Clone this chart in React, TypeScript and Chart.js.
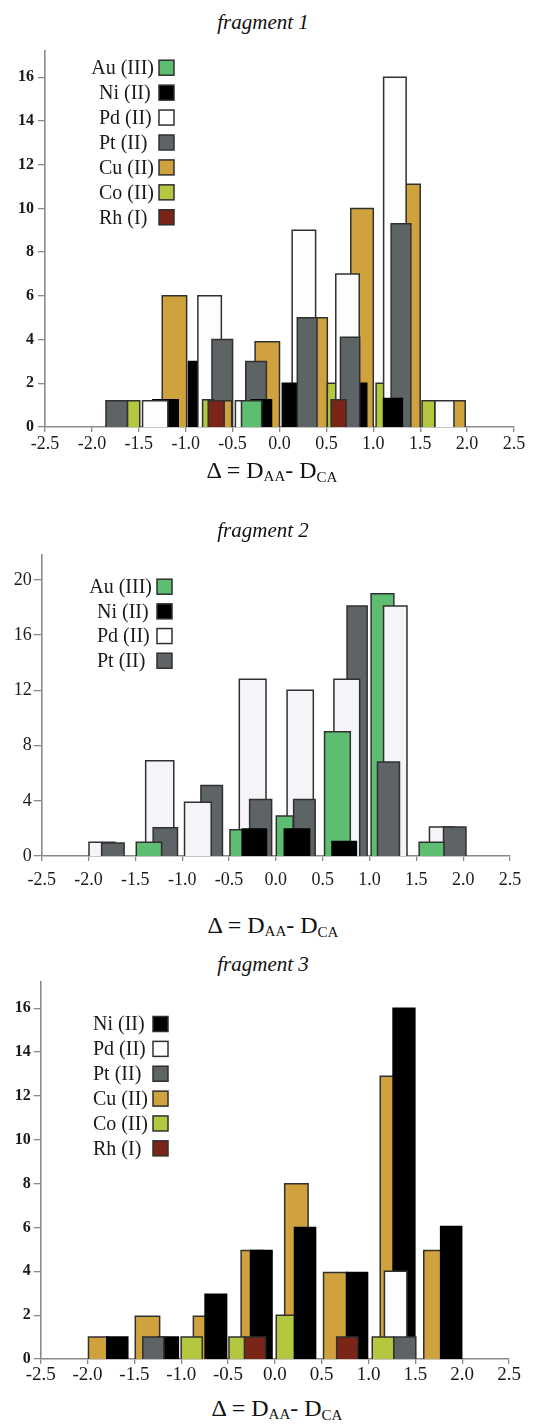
import React, { useEffect, useRef } from "react";
import { Chart, registerables } from "chart.js";

Chart.register(...registerables);

type Bar = [string, number, number, number]; // series, Δ from, Δ to, count

const SERIES_LABELS: Record<string, string> = {
  Au: "Au (III)",
  Ni: "Ni (II)",
  Pd: "Pd (II)",
  Pt: "Pt (II)",
  Cu: "Cu (II)",
  Co: "Co (II)",
  Rh: "Rh (I)",
};

const COLORS: Record<string, string> = {
  Au: "#5dbe72",
  Ni: "#000000",
  Pd: "#fdfdfd",
  Pt: "#5e6366",
  Cu: "#cfa23e",
  Co: "#b4c73f",
  Rh: "#7a2517",
};

const X_TICKS = [-2.5, -2.0, -1.5, -1.0, -0.5, 0.0, 0.5, 1.0, 1.5, 2.0, 2.5];

const frag1Legend = ["Au", "Ni", "Pd", "Pt", "Cu", "Co", "Rh"];
const frag2Legend = ["Au", "Ni", "Pd", "Pt"];
const frag3Legend = ["Ni", "Pd", "Pt", "Cu", "Co", "Rh"];

// bars listed back-to-front
const frag1Bars: Bar[] = [
  ["Pt", -1.85, -1.62, 1.2],
  ["Co", -1.62, -1.49, 1.2],
  ["Cu", -1.25, -0.99, 6],
  ["Ni", -1.35, -1.08, 1.25],
  ["Pd", -1.46, -1.19, 1.2],
  ["Ni", -0.97, -0.82, 3],
  ["Pd", -0.87, -0.62, 6],
  ["Pt", -0.72, -0.5, 4],
  ["Co", -0.82, -0.7, 1.25],
  ["Cu", -0.66, -0.51, 1.2],
  ["Rh", -0.76, -0.59, 1.2],
  ["Pd", -0.47, -0.25, 1.2],
  ["Cu", -0.26, 0.0, 3.9],
  ["Pt", -0.36, -0.14, 3],
  ["Ni", -0.3, -0.085, 1.25],
  ["Au", -0.405, -0.19, 1.2],
  ["Cu", 0.3, 0.51, 5],
  ["Pd", 0.135, 0.385, 9],
  ["Ni", 0.03, 0.19, 2],
  ["Pt", 0.19, 0.4, 5],
  ["Cu", 0.76, 1.0, 10],
  ["Ni", 0.78, 0.93, 2],
  ["Co", 0.51, 0.66, 2],
  ["Pd", 0.6, 0.85, 7],
  ["Pt", 0.65, 0.855, 4.1],
  ["Rh", 0.55, 0.71, 1.25],
  ["Cu", 1.25, 1.5, 11.1],
  ["Co", 1.03, 1.15, 2],
  ["Pd", 1.11, 1.35, 16],
  ["Pt", 1.19, 1.4, 9.3],
  ["Ni", 1.11, 1.31, 1.3],
  ["Cu", 1.75, 1.98, 1.2],
  ["Pd", 1.655, 1.86, 1.2],
  ["Co", 1.52, 1.655, 1.2],
];

const frag2Bars: Bar[] = [
  ["Pd", -1.995, -1.72, 1.0],
  ["Pt", -1.86, -1.62, 0.95],
  ["Pd", -1.39, -1.09, 6.9],
  ["Pt", -1.31, -1.05, 2.05],
  ["Au", -1.49, -1.22, 1.0],
  ["Pt", -0.8, -0.57, 5.1],
  ["Pd", -0.975, -0.69, 3.9],
  ["Pd", -0.39, -0.105, 12.8],
  ["Au", -0.49, -0.32, 1.9],
  ["Pt", -0.28, -0.045, 4.1],
  ["Ni", -0.36, -0.1, 1.95],
  ["Pd", 0.12, 0.4, 12],
  ["Au", 0.005, 0.185, 2.9],
  ["Pt", 0.19, 0.42, 4.1],
  ["Ni", 0.09, 0.36, 1.95],
  ["Pt", 0.76, 0.975, 18.1],
  ["Pd", 0.62, 0.895, 12.8],
  ["Au", 0.52, 0.795, 9],
  ["Ni", 0.6, 0.86, 1.05],
  ["Au", 1.017, 1.26, 19],
  ["Pd", 1.15, 1.4, 18.1],
  ["Pt", 1.085, 1.32, 6.8],
  ["Pd", 1.64, 1.9, 2.1],
  ["Pt", 1.79, 2.03, 2.1],
  ["Au", 1.53, 1.795, 1.0],
];

const frag3Bars: Bar[] = [
  ["Cu", -1.99, -1.78, 1],
  ["Ni", -1.795, -1.57, 1],
  ["Cu", -1.49, -1.23, 1.95],
  ["Ni", -1.25, -1.03, 1],
  ["Pt", -1.41, -1.185, 1],
  ["Cu", -0.87, -0.7, 1.95],
  ["Co", -1.0, -0.775, 1],
  ["Ni", -0.745, -0.515, 2.95],
  ["Cu", -0.36, -0.12, 4.95],
  ["Ni", -0.26, -0.03, 4.95],
  ["Co", -0.49, -0.32, 1],
  ["Rh", -0.325, -0.1, 1],
  ["Cu", 0.105, 0.355, 8],
  ["Co", 0.015, 0.21, 2.0],
  ["Ni", 0.21, 0.435, 6],
  ["Cu", 0.52, 0.77, 3.95],
  ["Ni", 0.765, 0.99, 3.95],
  ["Rh", 0.66, 0.885, 1],
  ["Cu", 1.125, 1.36, 12.9],
  ["Ni", 1.262, 1.495, 16],
  ["Pd", 1.17, 1.41, 4],
  ["Co", 1.04, 1.27, 1],
  ["Pt", 1.27, 1.505, 1],
  ["Cu", 1.59, 1.78, 4.95],
  ["Ni", 1.77, 1.995, 6.05],
];

type PanelCfg = {
  title: string;
  bars: Bar[];
  legend: string[];
  yMax: number;
  yStep: number;
  pdFill: string;
  canvasTop: number;
  canvasHeight: number;
  left: number;
  right: number;
  top: number;
  bottom: number;
  yFont: { size: number; weight: string };
  yTickLen: number;
  yPad: number;
  xFontSize: number;
  xPad: number;
  legendBoxX: number;
  legendRow0: number;
  legendGap: number;
  titleTop: number;
  titleCx: number;
  xLabelTop: number;
  xLabelCx: number;
};

const PANELS: PanelCfg[] = [
  {
    title: "fragment 1",
    bars: frag1Bars,
    legend: frag1Legend,
    yMax: 17.2,
    yStep: 2,
    pdFill: "#fdfdfd",
    canvasTop: 36,
    canvasHeight: 429,
    left: 45,
    right: 514,
    top: 51,
    bottom: 427,
    yFont: { size: 16, weight: "bold" },
    yTickLen: 7,
    yPad: 4,
    xFontSize: 18,
    xPad: 1,
    legendBoxX: 159,
    legendRow0: 67.7,
    legendGap: 24.93,
    titleTop: 11.5,
    titleCx: 263,
    xLabelTop: 458,
    xLabelCx: 272,
  },
  {
    title: "fragment 2",
    bars: frag2Bars,
    legend: frag2Legend,
    yMax: 21.8,
    yStep: 4,
    pdFill: "#f4f4f9",
    canvasTop: 540,
    canvasHeight: 360,
    left: 41.7,
    right: 510,
    top: 555,
    bottom: 856,
    yFont: { size: 18, weight: "normal" },
    yTickLen: 8,
    yPad: 2,
    xFontSize: 18,
    xPad: 8,
    legendBoxX: 157,
    legendRow0: 586.7,
    legendGap: 24.67,
    titleTop: 520,
    titleCx: 263,
    xLabelTop: 913,
    xLabelCx: 273,
  },
  {
    title: "fragment 3",
    bars: frag3Bars,
    legend: frag3Legend,
    yMax: 17.2,
    yStep: 2,
    pdFill: "#fdfdfd",
    canvasTop: 965,
    canvasHeight: 430,
    left: 40.7,
    right: 509,
    top: 982,
    bottom: 1359,
    yFont: { size: 16, weight: "bold" },
    yTickLen: 7,
    yPad: 3,
    xFontSize: 19,
    xPad: 0,
    legendBoxX: 153,
    legendRow0: 1024,
    legendGap: 24.87,
    titleTop: 953.5,
    titleCx: 263,
    xLabelTop: 1396,
    xLabelCx: 277,
  },
];

const SERIF = '"Liberation Serif", "Times New Roman", serif';

function Panel({ p }: { p: PanelCfg }) {
  const ref = useRef<HTMLCanvasElement>(null);

  useEffect(() => {
    const canvas = ref.current;
    if (!canvas) return;
    const n = p.bars.length;
    const datasets = p.bars.map(([s, x0, x1, h], i) => ({
      label: s,
      data: [
        { x: x0, y: 0 },
        { x: x0, y: h },
        { x: x1, y: h },
        { x: x1, y: 0 },
      ],
      backgroundColor: s === "Pd" ? p.pdFill : COLORS[s],
      borderColor: s === "Ni" ? "#000000" : "#303030",
      borderWidth: 1.5,
      borderJoinStyle: "miter" as const,
      fill: "origin",
      pointRadius: 0,
      pointHoverRadius: 0,
      tension: 0,
      order: n - i,
    }));

    const legendPlugin = {
      id: "sideLegend",
      afterDraw(chart: any) {
        const ctx = chart.ctx as CanvasRenderingContext2D;
        ctx.save();
        ctx.font = `20px ${SERIF}`;
        ctx.textBaseline = "middle";
        ctx.textAlign = "left";
        p.legend.forEach((s, i) => {
          const cy = p.legendRow0 + i * p.legendGap - p.canvasTop;
          const bx = p.legendBoxX;
          const size = 15;
          ctx.fillStyle = s === "Pd" ? "#ffffff" : COLORS[s];
          ctx.fillRect(bx, cy - size / 2, size, size);
          ctx.lineWidth = 1.5;
          ctx.strokeStyle = "#303030";
          ctx.strokeRect(bx, cy - size / 2, size, size);
          const label = SERIES_LABELS[s];
          const w = ctx.measureText(label).width;
          const tx = Math.min(bx - 60, bx - 5 - w);
          ctx.fillStyle = "#1a1a1a";
          ctx.fillText(label, tx, cy + 1);
        });
        ctx.restore();
      },
    };

    const chart = new Chart(canvas, {
      type: "line",
      data: { datasets } as any,
      options: {
        animation: false,
        responsive: false,
        events: [],
        layout: {
          padding: {
            top: p.top - p.canvasTop,
            right: 538 - p.right,
            left: 0,
            bottom: 0,
          },
        },
        plugins: {
          legend: { display: false },
          tooltip: { enabled: false },
          title: { display: false },
        },
        scales: {
          x: {
            type: "linear",
            min: X_TICKS[0],
            max: X_TICKS[X_TICKS.length - 1],
            z: 1,
            afterBuildTicks: (s: any) => {
              s.ticks = X_TICKS.map((v) => ({ value: v }));
            },
            ticks: {
              autoSkip: false,
              maxRotation: 0,
              padding: p.xPad,
              color: "#1a1a1a",
              font: { family: SERIF, size: p.xFontSize },
              callback: (v: any) => {
                const num = Number(v);
                return Math.abs(num) < 1e-9 ? "0.0" : num.toFixed(1);
              },
            },
            grid: {
              drawOnChartArea: false,
              drawTicks: true,
              tickLength: 5,
              color: "#8a8a8a",
              lineWidth: 1.3,
            },
            border: { display: true, color: "#8a8a8a", width: 1.6 },
            afterFit: (s: any) => {
              s.height = p.canvasTop + p.canvasHeight - p.bottom;
            },
          },
          y: {
            type: "linear",
            min: 0,
            max: p.yMax,
            afterBuildTicks: (s: any) => {
              s.ticks = s.ticks.filter(
                (t: any) => Math.abs(t.value / p.yStep - Math.round(t.value / p.yStep)) < 1e-6
              );
            },
            ticks: {
              stepSize: p.yStep,
              padding: p.yPad,
              color: "#1a1a1a",
              font: { family: SERIF, size: p.yFont.size, weight: p.yFont.weight as any },
            },
            grid: {
              drawOnChartArea: false,
              drawTicks: true,
              tickLength: p.yTickLen,
              color: "#8a8a8a",
              lineWidth: 1.3,
            },
            border: { display: true, color: "#8a8a8a", width: 1.6 },
            afterFit: (s: any) => {
              s.width = p.left;
            },
          },
        },
      } as any,
      plugins: [legendPlugin],
    });
    return () => chart.destroy();
  }, [p]);

  return (
    <>
      <div
        style={{
          position: "absolute",
          left: p.titleCx - 150,
          width: 300,
          top: p.titleTop,
          textAlign: "center",
          fontFamily: SERIF,
          fontStyle: "italic",
          fontSize: 21,
          lineHeight: "21px",
          color: "#111",
        }}
      >
        {p.title}
      </div>
      <canvas
        ref={ref}
        width={538}
        height={p.canvasHeight}
        style={{
          position: "absolute",
          left: 0,
          top: p.canvasTop,
          width: 538,
          height: p.canvasHeight,
        }}
      />
      <div
        style={{
          position: "absolute",
          left: p.xLabelCx - 150,
          width: 300,
          top: p.xLabelTop,
          textAlign: "center",
          fontFamily: SERIF,
          fontSize: 24,
          lineHeight: "24px",
          color: "#111",
          whiteSpace: "nowrap",
        }}
      >
        Δ = D<span style={{ fontSize: 15, verticalAlign: -3 }}>AA</span>- D
        <span style={{ fontSize: 15, verticalAlign: -4 }}>CA</span>
      </div>
    </>
  );
}

export default function App() {
  return (
    <div
      style={{
        position: "absolute",
        left: 0,
        top: 0,
        width: 538,
        height: 1426,
        background: "#ffffff",
        overflow: "hidden",
      }}
    >
      {PANELS.map((p) => (
        <Panel key={p.title} p={p} />
      ))}
    </div>
  );
}
